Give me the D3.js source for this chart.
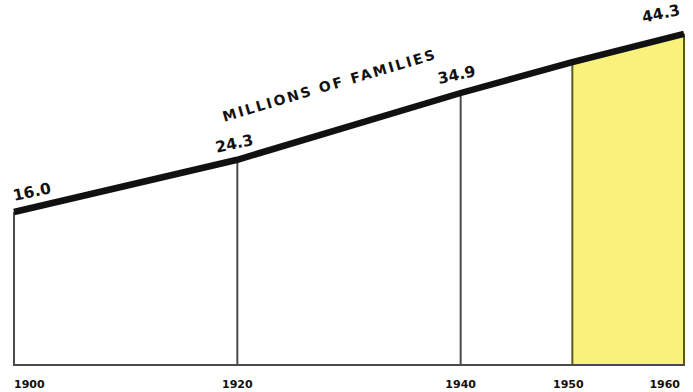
<!DOCTYPE html>
<html>
<head>
<meta charset="utf-8">
<script src="https://cdn.jsdelivr.net/npm/d3@7"></script>
<style>
html,body{margin:0;padding:0;background:#fff;}
svg{display:block;}
</style>
</head>
<body>
<svg id="chart" width="693" height="392"></svg>
<script>
const years = [1900, 1920, 1940, 1950, 1960];
const families = [16.0, 24.3, 34.9, 39.8, 44.3];
const valueLabels = ["16.0", "24.3", "34.9", "", "44.3"];
const tickLabels = ["1900", "1920", "1940", "1950", "1960"];
const shadedRange = [1950, 1960];
const title = "MILLIONS OF FAMILIES";

const svg = d3.select("#chart");
const x = d3.scaleLinear().domain([1900, 1960]).range([14, 684]);
const y = d3.scaleLinear().domain([-8.3, 16]).range([365, 212]);
const data = years.map((yr, i) => ({yr, v: families[i], label: valueLabels[i], tick: tickLabels[i]}));

// shaded area
const shaded = data.filter(d => d.yr >= shadedRange[0] && d.yr <= shadedRange[1]);
svg.append("path")
  .datum(shaded)
  .attr("d", d3.area().x(d => x(d.yr)).y0(y(-8.3)).y1(d => y(d.v)))
  .attr("fill", "#f8f27c");

// verticals
svg.selectAll("line.v").data(data).enter().append("line")
  .attr("class", "v")
  .attr("x1", d => x(d.yr)).attr("x2", d => x(d.yr))
  .attr("y1", d => y(d.v)).attr("y2", y(-8.3))
  .attr("stroke", d => d.yr >= shadedRange[0] ? "#5a5a20" : "#4a4a4a")
  .attr("stroke-width", 2);

// baseline
svg.append("line")
  .attr("x1", x(1900) - 1).attr("x2", x(1960) + 1)
  .attr("y1", y(-8.3)).attr("y2", y(-8.3))
  .attr("stroke", "#4a4a4a").attr("stroke-width", 2);

// main line
svg.append("path")
  .datum(data)
  .attr("d", d3.line().x(d => x(d.yr)).y(d => y(d.v)))
  .attr("fill", "none").attr("stroke", "#111").attr("stroke-width", 6.5)
  .attr("stroke-linecap", "butt");

// value labels
const lblOffset = [[19, -15], [-2, -11], [-3, -13], [0, 0], [-22, -15]];
svg.selectAll("text.val").data(data.filter(d => d.label)).enter().append("text")
  .attr("class", "val")
  .attr("transform", d => {
    const i = years.indexOf(d.yr);
    return `translate(${x(d.yr) + lblOffset[i][0]},${y(d.v) + lblOffset[i][1]}) rotate(-12)`;
  })
  .attr("text-anchor", "middle")
  .attr("font-family", "DejaVu Sans, sans-serif")
  .attr("font-weight", "bold")
  .attr("font-size", 15.5)
  .attr("fill", "#111")
  .text(d => d.label);

// title along line
svg.append("text")
  .attr("transform", `translate(331,90) rotate(-16.5)`)
  .attr("text-anchor", "middle")
  .attr("font-family", "DejaVu Sans, sans-serif")
  .attr("font-weight", "bold")
  .attr("font-size", 14)
  .attr("letter-spacing", 2.2)
  .attr("fill", "#111")
  .text(title);

// tick labels
const tickAnchor = ["start", "middle", "middle", "middle", "end"];
const tickDx = [0, 0, 0, -4, -4];
svg.selectAll("text.tick").data(data).enter().append("text")
  .attr("class", "tick")
  .attr("x", (d, i) => x(d.yr) + tickDx[i])
  .attr("y", 388)
  .attr("text-anchor", (d, i) => tickAnchor[i])
  .attr("font-family", "DejaVu Sans, sans-serif")
  .attr("font-weight", "bold")
  .attr("font-size", 11)
  .attr("fill", "#111")
  .text(d => d.tick);
</script>
</body>
</html>
